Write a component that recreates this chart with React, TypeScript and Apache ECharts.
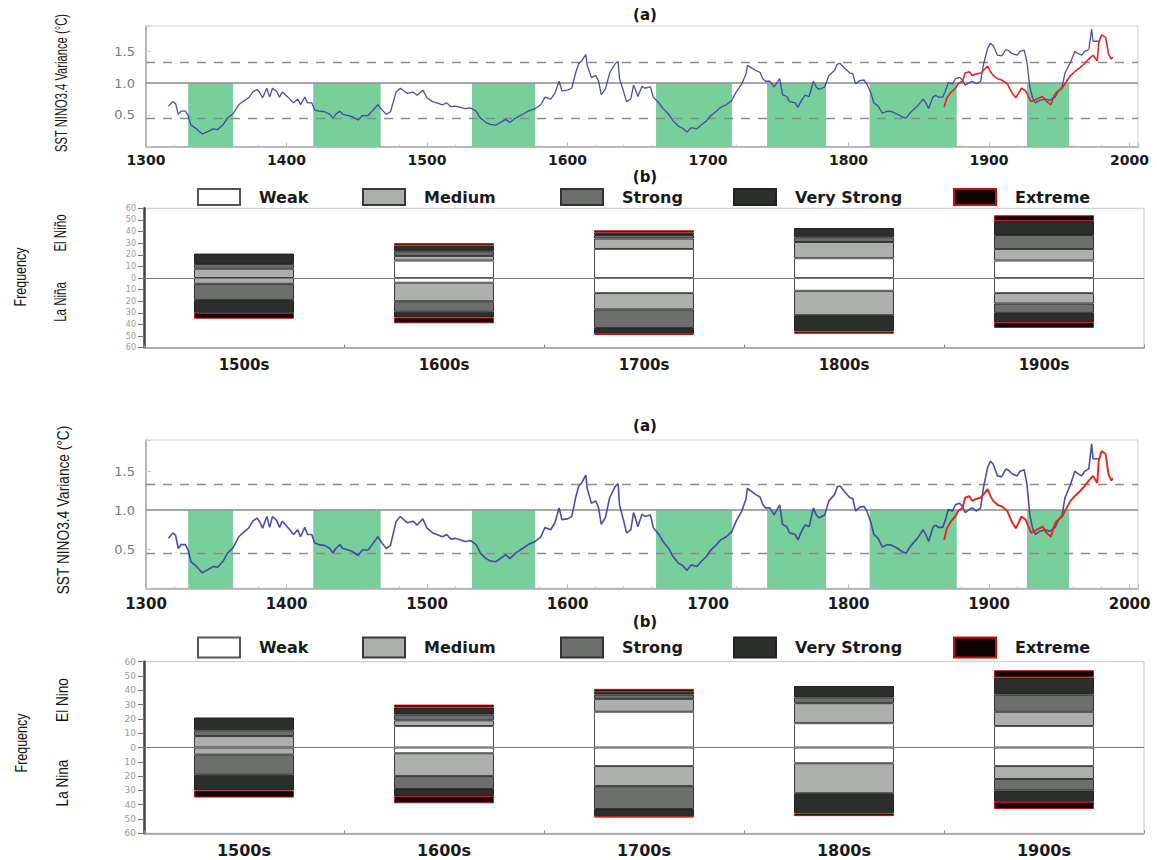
import React, { useEffect, useRef } from "react";
import * as echarts from "echarts";

// ---------- Panel (a): SST NINO3.4 variance reconstruction ----------
const blueYears = [
  1316, 1319, 1321, 1323, 1325, 1328, 1330, 1332, 1336, 1340, 1343, 1348, 1351, 1355, 1358, 1362,
  1366, 1369, 1373, 1376, 1379, 1381, 1383, 1386, 1388, 1390, 1393, 1395, 1397, 1401, 1405, 1408,
  1410, 1413, 1415, 1418, 1420, 1423, 1427, 1431, 1433, 1435, 1438, 1440, 1444, 1447, 1451, 1454,
  1458, 1461, 1465, 1468, 1471, 1474, 1478, 1481, 1484, 1486, 1490, 1493, 1497, 1500, 1504, 1507,
  1511, 1514, 1517, 1520, 1524, 1527, 1531, 1535, 1538, 1542, 1545, 1549, 1552, 1556, 1559, 1563,
  1568, 1572, 1577, 1581, 1584, 1588, 1591, 1594, 1596, 1600, 1603, 1606, 1608, 1610, 1613, 1614,
  1617, 1620, 1622, 1624, 1627, 1630, 1634, 1636, 1637, 1640, 1642, 1645, 1647, 1649, 1650, 1653,
  1655, 1659, 1661, 1665, 1668, 1672, 1675, 1679, 1682, 1685, 1688, 1692, 1695, 1699, 1702, 1706,
  1709, 1713, 1717, 1720, 1724, 1727, 1728, 1731, 1734, 1737, 1739, 1741, 1744, 1747, 1751, 1753,
  1756, 1758, 1762, 1764, 1766, 1769, 1772, 1775, 1777, 1779, 1783, 1786, 1790, 1792, 1794, 1797,
  1801, 1803, 1805, 1808, 1811, 1813, 1816, 1818, 1821, 1824, 1828, 1831, 1835, 1838, 1841, 1843,
  1845, 1849, 1853, 1855, 1857, 1860, 1862, 1864, 1867, 1869, 1871, 1874, 1876, 1879, 1881, 1883,
  1886, 1888, 1891, 1894, 1896, 1899, 1901, 1903, 1906, 1909, 1912, 1914, 1916, 1920, 1922, 1925,
  1927, 1929, 1931, 1933, 1936, 1940, 1943, 1947, 1949, 1952, 1954, 1958, 1961, 1964, 1966, 1968,
  1971, 1973, 1974, 1977, 1979,
];
const blueValues = [
  0.64, 0.71, 0.68, 0.51, 0.56, 0.56, 0.49, 0.34, 0.28, 0.2, 0.23, 0.28, 0.27, 0.35, 0.45, 0.52,
  0.66, 0.71, 0.77, 0.86, 0.9, 0.85, 0.77, 0.92, 0.78, 0.92, 0.87, 0.78, 0.86, 0.78, 0.69, 0.75,
  0.66, 0.78, 0.69, 0.69, 0.58, 0.56, 0.55, 0.51, 0.45, 0.51, 0.56, 0.51, 0.49, 0.47, 0.42, 0.49,
  0.49, 0.56, 0.66, 0.58, 0.51, 0.55, 0.86, 0.92, 0.87, 0.84, 0.86, 0.81, 0.89, 0.77, 0.71, 0.69,
  0.66, 0.69, 0.63, 0.64, 0.62, 0.6, 0.61, 0.56, 0.45, 0.38, 0.35, 0.34, 0.38, 0.43, 0.38, 0.45,
  0.51, 0.56, 0.6, 0.66, 0.78, 0.75, 0.84, 1.03, 0.88, 0.89, 0.92, 1.18, 1.31, 1.35, 1.45, 1.28,
  1.09, 1.12, 1.04, 0.82, 0.91, 1.16, 1.31, 1.34, 1.07, 0.86, 0.71, 0.75, 0.97, 0.86, 0.79, 0.95,
  0.92, 0.94, 0.78, 0.69, 0.6, 0.51, 0.41, 0.32, 0.29, 0.23, 0.3, 0.28, 0.34, 0.41, 0.49, 0.56,
  0.62, 0.66, 0.73, 0.86, 0.99, 1.14, 1.28, 1.24, 1.2, 1.17, 1.07, 1.03, 1.03, 0.94, 1.07, 0.82,
  0.79, 0.71, 0.69, 0.62, 0.71, 0.81, 0.79, 1.03, 0.94, 0.9, 0.94, 1.12, 1.2, 1.3, 1.31, 1.24,
  1.16, 1.15, 0.99, 1.04, 1.05, 0.99, 0.84, 0.69, 0.64, 0.53, 0.56, 0.55, 0.51, 0.47, 0.45, 0.51,
  0.56, 0.64, 0.75, 0.69, 0.6, 0.78, 0.81, 0.78, 0.78, 0.88, 1.01, 0.99, 1.07, 1.09, 1.05, 0.97,
  1.01, 1.03, 0.99, 1.03, 1.29, 1.55, 1.63, 1.59, 1.44, 1.43, 1.53, 1.51, 1.47, 1.44, 1.5, 1.52,
  1.33, 0.94, 0.77, 0.69, 0.73, 0.75, 0.73, 0.78, 0.86, 0.94, 1.16, 1.33, 1.5, 1.46, 1.44, 1.5,
  1.53, 1.85, 1.66, 1.66, 1.66,
];
const redYears = [
  1868, 1870, 1873, 1876, 1878, 1881, 1883, 1886, 1888, 1890, 1894, 1896, 1899, 1901, 1903, 1906,
  1909, 1913, 1916, 1919, 1921, 1923, 1926, 1928, 1930, 1934, 1938, 1941, 1944, 1946, 1948, 1952,
  1954, 1958, 1961, 1965, 1968, 1971, 1974, 1977, 1978, 1980, 1983, 1985, 1987, 1988,
];
const redValues = [
  0.62, 0.77, 0.86, 0.92, 0.99, 1.03, 1.16, 1.18, 1.12, 1.14, 1.16, 1.2, 1.27, 1.18, 1.12, 1.07,
  1.05, 0.99, 0.86, 0.77, 0.84, 0.92, 0.88, 0.79, 0.71, 0.75, 0.79, 0.71, 0.66, 0.79, 0.86, 0.92,
  0.99, 1.12, 1.18, 1.25, 1.31, 1.38, 1.44, 1.35, 1.63, 1.76, 1.72, 1.46, 1.38, 1.41,
];
const bandStarts = [1330, 1419, 1532, 1663, 1742, 1815, 1927];
const bandEnds = [1362, 1467, 1577, 1717, 1784, 1877, 1957];
const upperThreshold = 1.33;
const lowerThreshold = 0.45;
const referenceLevel = 1.0;

// ---------- Panel (b): ENSO event frequency per century ----------
const centuries = ["1500s", "1600s", "1700s", "1800s", "1900s"];
const intensities = ["Weak", "Medium", "Strong", "Very Strong", "Extreme"];
const elNinoWeak = [0, 15, 25, 17, 15];
const elNinoMedium = [8, 4, 9, 14, 10];
const elNinoStrong = [4, 4, 3, 4, 12];
const elNinoVeryStrong = [9, 5, 2, 8, 12];
const elNinoExtreme = [0, 2, 2, 0, 5];
const laNinaWeak = [0, 4, 13, 11, 13];
const laNinaMedium = [5, 16, 14, 21, 9];
const laNinaStrong = [14, 9, 16, 0, 8];
const laNinaVeryStrong = [11, 5, 5, 14, 8];
const laNinaExtreme = [5, 5, 1, 2, 5];

const FILLS = ["#ffffff", "#acafac", "#6d6f6d", "#2c2e2c", "#0e0202"];
const BORDERS = ["#555555", "#3a3a3a", "#333333", "#222222", "#c01010"];

type Layout = {
  aTop: number; aH: number; bTop: number; bH: number;
  titleAY: number; titleBY: number; legendY: number; legendH: number;
  xFont: number; xMargin: number; catMargin: number; bLabelFont: number;
  yTitleX: number; yTitleY: number; yTitleScale: number;
  freqX: number; freqY: number; elX: number; elY: number; laY: number;
  elText: string; laText: string; sideScale: number; lineW: number;
};

const LAYOUTS: Layout[] = [
  {
    aTop: 26, aH: 120.7, bTop: 208.3, bH: 139.4,
    titleAY: 15, titleBY: 177, legendY: 196, legendH: 16,
    xFont: 14, xMargin: 6, catMargin: 10, bLabelFont: 8,
    yTitleX: 61.5, yTitleY: 83, yTitleScale: 0.68,
    freqX: 20, freqY: 277, elX: 60, elY: 233, laY: 302,
    elText: "El Niño", laText: "La Niña", sideScale: 0.72, lineW: 1.3,
  },
  {
    aTop: 440, aH: 148.3, bTop: 661.7, bH: 171.6,
    titleAY: 426, titleBY: 622, legendY: 646.5, legendH: 20,
    xFont: 15, xMargin: 8, catMargin: 9, bLabelFont: 9,
    yTitleX: 63, yTitleY: 510, yTitleScale: 0.83,
    freqX: 21.5, freqY: 743, elX: 63, elY: 700, laY: 783,
    elText: "El Nino", laText: "La Nina", sideScale: 0.85, lineW: 1.6,
  },
];

const LEGEND_X = [197, 362, 560, 733, 953];

function buildOption(): any {
  const grid: any[] = [];
  const xAxis: any[] = [];
  const yAxis: any[] = [];
  const series: any[] = [];
  const legend: any[] = [];
  const elements: any[] = [];

  const blueData = blueYears.map((y, i) => [y, blueValues[i]]);
  const redData = redYears.map((y, i) => [y, redValues[i]]);
  const bands = bandStarts.map((s, i) => [
    { xAxis: s, yAxis: 0 },
    { xAxis: bandEnds[i], yAxis: referenceLevel },
  ]);
  const en = [elNinoWeak, elNinoMedium, elNinoStrong, elNinoVeryStrong, elNinoExtreme];
  const ln = [laNinaWeak, laNinaMedium, laNinaStrong, laNinaVeryStrong, laNinaExtreme];

  const boldFont = { fontFamily: "DejaVu Sans", fontWeight: "bold" as const, color: "#1a1a1a" };

  LAYOUTS.forEach((L, c) => {
    const ai = c * 2;
    const bi = c * 2 + 1;

    grid.push({ left: 146, top: L.aTop, width: 992, height: L.aH, show: true, borderColor: "#cfcfcf", borderWidth: 1 });
    grid.push({ left: 144, top: L.bTop, width: 1000, height: L.bH, show: true, borderColor: "#c8c8c8", borderWidth: 1 });

    xAxis.push({
      type: "value", gridIndex: ai, min: 1300, max: 2006, interval: 100,
      axisLine: { show: true, lineStyle: { color: "#a8a8a8", width: 1.5 } },
      axisTick: { show: true, inside: true, length: 4, lineStyle: { color: "#b8b8b8" } },
      minorTick: { show: true, splitNumber: 5, length: 2, lineStyle: { color: "#c8c8c8" } },
      splitLine: { show: false },
      axisLabel: {
        ...boldFont, fontSize: L.xFont, margin: L.xMargin,
        formatter: (v: number) => (v % 100 === 0 ? String(v) : ""),
      },
    });
    xAxis.push({
      type: "category", gridIndex: bi, data: centuries,
      axisLine: { show: true, onZero: false, lineStyle: { color: "#9a9a9a", width: 1.5 } },
      axisTick: { show: true, inside: true, length: 3, lineStyle: { color: "#888" } },
      axisLabel: { ...boldFont, fontSize: L.xFont + 1, margin: L.catMargin },
    });

    yAxis.push({
      type: "value", gridIndex: ai, min: 0, max: 1.9, interval: 0.5,
      axisLine: { show: true, lineStyle: { color: "#a8a8a8", width: 1.5 } },
      axisTick: { show: true, inside: true, length: 5, lineStyle: { color: "#cfcfcf" } },
      splitLine: { show: false },
      axisLabel: {
        fontFamily: "DejaVu Sans", fontSize: 13, color: "#7a7a7a", margin: 11,
        formatter: (v: number) => (v > 0.2 && v < 1.6 ? v.toFixed(1) : ""),
      },
    });
    yAxis.push({
      type: "value", gridIndex: bi, min: -60, max: 60, interval: 10,
      axisLine: { show: true, lineStyle: { color: "#444", width: 2.5 } },
      axisTick: { show: true, length: 6, lineStyle: { color: "#777" } },
      splitLine: { show: false },
      axisLabel: {
        fontFamily: "DejaVu Sans", fontSize: L.bLabelFont, color: "#9a9a9a", margin: 8,
        formatter: (v: number) => String(Math.abs(v)),
      },
    });

    series.push({
      type: "line", name: "Reconstructed variance", xAxisIndex: ai, yAxisIndex: ai,
      data: blueData, showSymbol: false, symbol: "none", z: 5,
      lineStyle: { color: "#3a3aa4", width: L.lineW, opacity: 0.9 },
      markArea: { silent: true, itemStyle: { color: "#79cf9c" }, data: bands },
      markLine: {
        silent: true, symbol: "none", label: { show: false },
        data: [
          { yAxis: upperThreshold, lineStyle: { type: [9, 8], color: "#8a8a8a", width: 1.3 } },
          { yAxis: referenceLevel, lineStyle: { type: "solid", color: "#8a8a8a", width: 1.5 } },
          { yAxis: lowerThreshold, lineStyle: { type: [9, 8], color: "#8a8a8a", width: 1.3 } },
        ],
      },
    });
    series.push({
      type: "line", name: "Instrumental variance", xAxisIndex: ai, yAxisIndex: ai,
      data: redData, showSymbol: false, symbol: "none", z: 6,
      lineStyle: { color: "#e3261e", width: L.lineW + 0.3 },
    });

    intensities.forEach((name, k) => {
      const common = {
        type: "bar", name, xAxisIndex: bi, yAxisIndex: bi, stack: "enso" + c, barWidth: 100,
        itemStyle: { color: FILLS[k], borderColor: BORDERS[k], borderWidth: 1 },
      };
      series.push({ ...common, data: en[k].map((v) => (v === 0 ? "-" : v)) });
      const lnSeries: any = { ...common, data: ln[k].map((v) => (v === 0 ? "-" : -v)) };
      if (k === intensities.length - 1) {
        lnSeries.markLine = {
          silent: true, symbol: "none", label: { show: false },
          lineStyle: { type: "solid", color: "#7a7a7a", width: 1 },
          data: [{ yAxis: 0 }],
        };
      }
      series.push(lnSeries);
    });

    intensities.forEach((name, k) => {
      legend.push({
        data: [name], left: LEGEND_X[k], top: L.legendY - L.legendH / 2, padding: 0,
        itemWidth: 42, itemHeight: L.legendH, icon: "rect", selectedMode: false,
        itemStyle: { borderWidth: 2 },
        textStyle: { ...boldFont, fontSize: 16, padding: [0, 0, 0, 14] },
      });
    });

    const txt = (text: string, x: number, y: number, size: number, extra: any = {}) => {
      const { family, weight, ...rest } = extra;
      return {
        type: "text", x, y, silent: true, ...rest,
        style: {
          text, fontSize: size, fill: "#151515",
          fontFamily: family || "DejaVu Sans", fontWeight: weight || "normal",
          textAlign: "center", textVerticalAlign: "middle", align: "center", verticalAlign: "middle",
        },
      };
    };
    elements.push(txt("(a)", 645, L.titleAY, 15, { weight: "bold" }));
    elements.push(txt("(b)", 645, L.titleBY, 15, { weight: "bold" }));
    elements.push(txt("SST NINO3.4 Variance (°C)", L.yTitleX, L.yTitleY, 16.5,
      { family: "Liberation Sans", rotation: Math.PI / 2, scaleX: L.yTitleScale }));
    elements.push(txt("Frequency", L.freqX, L.freqY, 16,
      { family: "Liberation Sans", rotation: Math.PI / 2, scaleX: 0.78 }));
    elements.push(txt(L.elText, L.elX, L.elY, 16,
      { family: "Liberation Sans", rotation: Math.PI / 2, scaleX: L.sideScale }));
    elements.push(txt(L.laText, L.elX, L.laY, 16,
      { family: "Liberation Sans", rotation: Math.PI / 2, scaleX: L.sideScale }));
  });

  return {
    animation: false,
    backgroundColor: "#ffffff",
    textStyle: { fontFamily: "DejaVu Sans" },
    grid, xAxis, yAxis, series, legend,
    graphic: { elements },
  };
}

export default function App() {
  const ref = useRef<HTMLDivElement>(null);
  useEffect(() => {
    if (!ref.current) return;
    const chart = echarts.init(ref.current, undefined, { renderer: "svg" });
    chart.setOption(buildOption());
    return () => chart.dispose();
  }, []);
  return (
    <div
      ref={ref}
      style={{ position: "absolute", left: 0, top: 0, width: 1157, height: 860, background: "#fff" }}
    />
  );
}
